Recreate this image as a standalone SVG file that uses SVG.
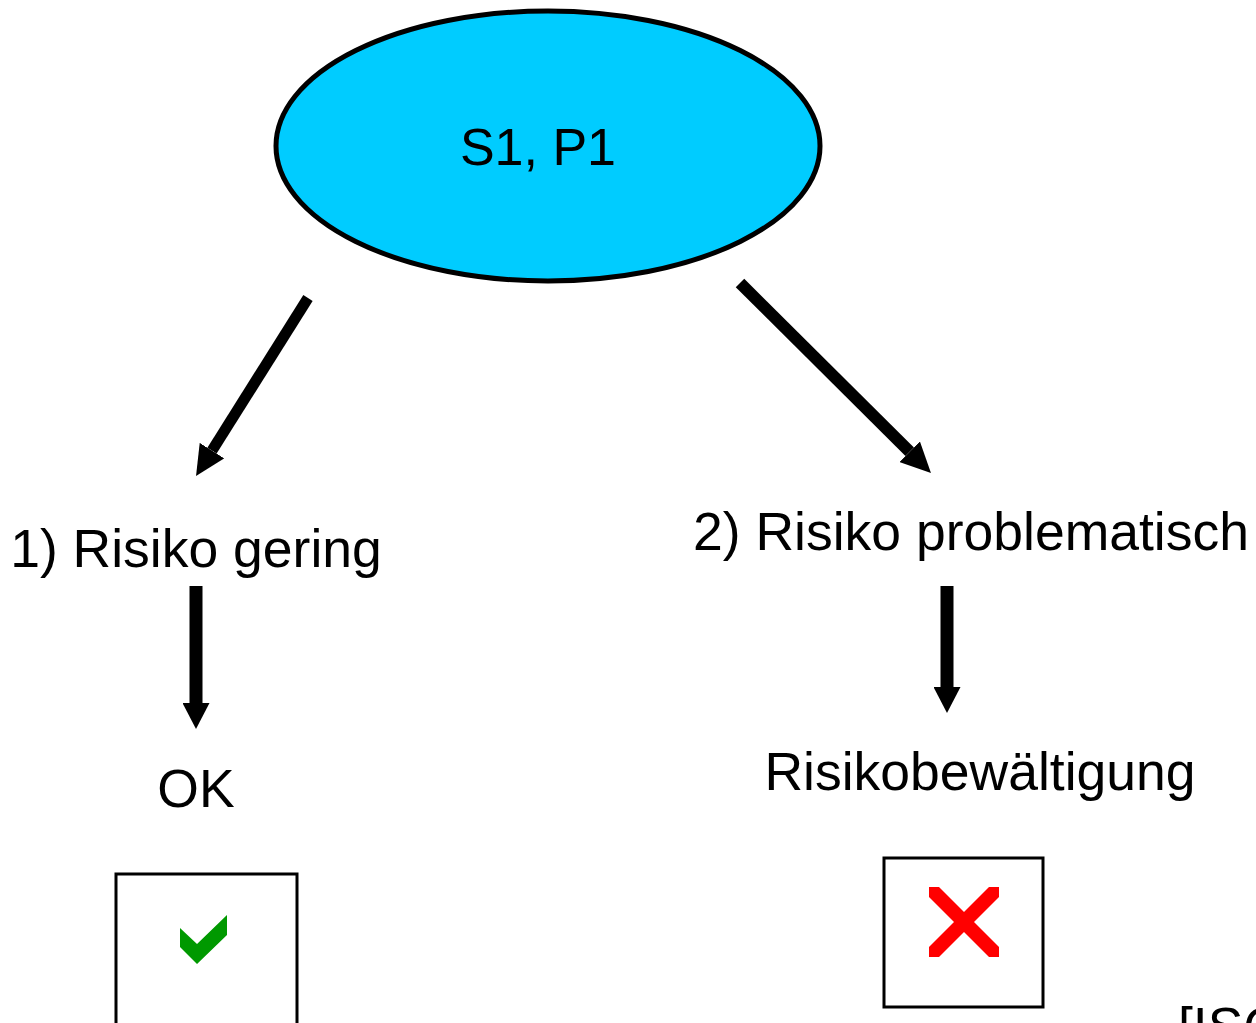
<svg xmlns="http://www.w3.org/2000/svg" width="1256" height="1023" viewBox="0 0 1256 1023">
<style>
.lbl{font-family:"Liberation Sans",Arial,sans-serif;font-size:53.5px;fill:#000;text-anchor:middle}
.arr{stroke:#000;fill:none;stroke-linecap:butt}
.box{fill:#fff;stroke:#000;stroke-width:3}
</style>
<defs>
<marker id="headV" markerUnits="userSpaceOnUse" viewBox="0 0 26 27" refX="0" refY="13.5" markerWidth="26" markerHeight="27" orient="auto">
<path d="M0,0 L26,13.5 L0,27 Z" fill="#000"/>
</marker>
<marker id="headD" markerUnits="userSpaceOnUse" viewBox="0 0 30 29" refX="0" refY="14.5" markerWidth="30" markerHeight="29" orient="auto">
<path d="M0,0 L30,14.5 L0,29 Z" fill="#000"/>
</marker>
</defs>
<rect width="1256" height="1023" fill="#fff"/>
<g id="root">
<ellipse cx="548" cy="146" rx="272" ry="135" fill="#00CCFF" stroke="#000" stroke-width="5"/>
<text class="lbl" x="538" y="165" style="font-size:52px">S1, P1</text>
</g>
<g id="low">
<text class="lbl" x="196" y="567">1) Risiko gering</text>
</g>
<g id="high">
<text class="lbl" x="971" y="550">2) Risiko problematisch</text>
</g>
<g id="ok">
<text class="lbl" x="196" y="807">OK</text>
</g>
<g id="treat">
<text class="lbl" x="980" y="790">Risikobewältigung</text>
</g>
<g id="okbox">
<rect class="box" x="116" y="874" width="181" height="160"/>
<polygon points="180,928 197,944 227,915 227,935 197,964 180,947" fill="#009900"/>
</g>
<g id="xbox">
<rect class="box" x="884" y="858" width="159" height="149"/>
<polygon points="929,887 939,887 964,912 989,887 999,887 999,897 974,922 999,947 999,957 989,957 964,932 939,957 929,957 929,947 954,922 929,897" fill="#FF0000"/>
</g>
<g id="source">
<text class="lbl" x="1178" y="1045" style="text-anchor:start">[ISO</text>
</g>
<g id="connectors">
<line class="arr" x1="308" y1="298" x2="212" y2="450.6" stroke-width="11" marker-end="url(#headD)"/>
<line class="arr" x1="740" y1="283" x2="909.7" y2="451.8" stroke-width="12" marker-end="url(#headD)"/>
<line class="arr" x1="196" y1="586" x2="196" y2="703" stroke-width="13" marker-end="url(#headV)"/>
<line class="arr" x1="947" y1="586" x2="947" y2="687" stroke-width="13" marker-end="url(#headV)"/>
</g>
</svg>
